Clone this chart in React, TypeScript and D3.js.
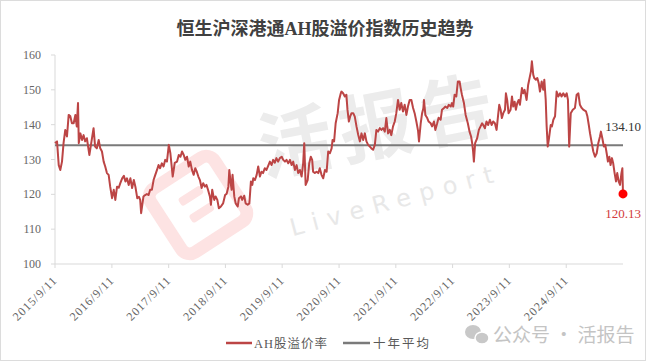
import React from "react";
import * as d3 from "d3";

const chartTitle = "恒生沪深港通AH股溢价指数历史趋势";
const seriesName = "AH股溢价率";
const meanName = "十年平均";
const meanValue = 134.1;
const lastValue = 120.13;

const yTicks = [100, 110, 120, 130, 140, 150, 160];
const xTickDates = [
  "2015-09-11", "2016-09-11", "2017-09-11", "2018-09-11", "2019-09-11",
  "2020-09-11", "2021-09-11", "2022-09-11", "2023-09-11", "2024-09-11",
];
const xTickLabels = [
  "2015/9/11", "2016/9/11", "2017/9/11", "2018/9/11", "2019/9/11",
  "2020/9/11", "2021/9/11", "2022/9/11", "2023/9/11", "2024/9/11",
];
const xDomain = ["2015-09-11", "2025-09-11"];

const premium: [string, number][] = [
  ["2015-09-11", 134.7], ["2015-09-24", 135.2], ["2015-10-05", 128.4], ["2015-10-15", 127.0],
  ["2015-10-26", 129.4], ["2015-11-05", 134.7], ["2015-11-16", 138.5], ["2015-11-27", 136.6],
  ["2015-12-08", 142.8], ["2015-12-18", 142.5], ["2015-12-29", 140.4], ["2016-01-09", 140.4],
  ["2016-01-20", 142.8], ["2016-01-29", 139.5], ["2016-02-06", 146.2], ["2016-02-11", 134.7],
  ["2016-02-21", 137.5], ["2016-03-03", 135.6], ["2016-03-13", 137.0], ["2016-03-23", 135.2],
  ["2016-04-03", 136.1], ["2016-04-19", 131.3], ["2016-05-01", 134.7], ["2016-05-16", 139.0],
  ["2016-05-26", 133.7], ["2016-06-06", 133.2], ["2016-06-18", 135.6], ["2016-06-28", 133.2],
  ["2016-07-09", 132.3], ["2016-07-20", 129.4], ["2016-07-30", 128.0], ["2016-08-10", 126.1],
  ["2016-08-21", 125.6], ["2016-08-31", 122.2], ["2016-09-12", 118.9], ["2016-09-23", 121.3],
  ["2016-10-03", 118.4], ["2016-10-14", 122.2], ["2016-10-25", 121.9], ["2016-11-04", 123.2],
  ["2016-11-16", 124.6], ["2016-11-27", 125.3], ["2016-12-07", 123.7], ["2016-12-17", 124.6],
  ["2016-12-28", 122.7], ["2017-01-08", 124.6], ["2017-01-19", 121.8], ["2017-01-30", 124.1],
  ["2017-02-09", 122.2], ["2017-02-21", 118.9], ["2017-03-04", 119.3], ["2017-03-12", 118.4],
  ["2017-03-18", 114.6], ["2017-04-02", 119.4], ["2017-04-13", 119.8], ["2017-04-24", 120.1],
  ["2017-05-05", 119.8], ["2017-05-15", 121.3], ["2017-05-26", 121.3], ["2017-06-06", 124.1],
  ["2017-06-17", 125.6], ["2017-06-28", 127.0], ["2017-07-08", 128.4], ["2017-07-18", 127.5],
  ["2017-07-29", 128.9], ["2017-08-09", 128.0], ["2017-08-20", 129.9], ["2017-08-31", 129.4],
  ["2017-09-12", 134.2], ["2017-09-22", 131.8], ["2017-10-07", 125.1], ["2017-10-20", 129.0],
  ["2017-11-04", 129.4], ["2017-11-15", 131.3], ["2017-11-26", 130.8], ["2017-12-06", 132.3],
  ["2017-12-17", 131.3], ["2017-12-27", 129.9], ["2018-01-07", 130.8], ["2018-01-18", 128.0],
  ["2018-01-28", 129.4], ["2018-02-08", 127.0], ["2018-02-19", 125.6], ["2018-03-01", 127.5],
  ["2018-03-11", 126.5], ["2018-03-21", 125.1], ["2018-03-31", 124.1], ["2018-04-11", 121.8],
  ["2018-04-21", 123.2], ["2018-05-02", 122.2], ["2018-05-12", 122.7], ["2018-05-22", 121.3],
  ["2018-06-03", 119.4], ["2018-06-10", 117.0], ["2018-06-18", 121.3], ["2018-07-01", 118.4],
  ["2018-07-10", 119.4], ["2018-07-21", 118.4], ["2018-07-31", 116.0], ["2018-08-13", 116.5],
  ["2018-08-27", 117.4], ["2018-09-09", 119.8], ["2018-09-19", 120.2], ["2018-09-30", 122.2],
  ["2018-10-06", 127.0], ["2018-10-15", 123.2], ["2018-10-21", 121.3], ["2018-10-27", 125.6],
  ["2018-11-07", 119.4], ["2018-11-16", 117.4], ["2018-11-29", 116.5], ["2018-12-07", 118.9],
  ["2018-12-20", 119.4], ["2018-12-28", 118.4], ["2019-01-10", 119.6], ["2019-01-19", 117.4],
  ["2019-02-01", 117.0], ["2019-02-12", 117.4], ["2019-02-22", 123.7], ["2019-03-03", 122.7],
  ["2019-03-09", 124.6], ["2019-03-20", 124.1], ["2019-03-31", 125.6], ["2019-04-10", 128.0],
  ["2019-04-21", 125.1], ["2019-05-01", 126.5], ["2019-05-11", 126.1], ["2019-05-22", 127.5],
  ["2019-06-02", 127.0], ["2019-06-13", 128.2], ["2019-06-24", 129.4], ["2019-07-05", 128.4],
  ["2019-07-15", 129.9], ["2019-07-26", 129.1], ["2019-08-05", 130.4], ["2019-08-16", 129.4],
  ["2019-08-27", 130.4], ["2019-09-08", 130.8], ["2019-09-18", 129.9], ["2019-09-29", 129.4],
  ["2019-10-09", 129.9], ["2019-10-20", 128.9], ["2019-10-31", 129.9], ["2019-11-11", 128.4],
  ["2019-11-21", 129.4], ["2019-12-02", 127.0], ["2019-12-13", 128.4], ["2019-12-23", 126.1],
  ["2020-01-03", 127.0], ["2020-01-14", 125.1], ["2020-01-24", 128.9], ["2020-01-31", 134.7],
  ["2020-02-09", 122.7], ["2020-02-22", 124.1], ["2020-03-03", 128.9], ["2020-03-13", 130.8],
  ["2020-03-22", 129.9], ["2020-03-28", 126.5], ["2020-04-08", 126.1], ["2020-04-19", 126.5],
  ["2020-04-30", 126.1], ["2020-05-10", 127.5], ["2020-05-21", 125.6], ["2020-06-01", 124.6],
  ["2020-06-12", 127.0], ["2020-06-23", 126.5], ["2020-07-03", 132.3], ["2020-07-14", 131.8],
  ["2020-07-25", 133.2], ["2020-07-31", 135.6], ["2020-08-10", 135.2], ["2020-08-20", 140.4],
  ["2020-09-02", 143.3], ["2020-09-11", 147.1], ["2020-09-22", 149.0], ["2020-09-26", 149.5],
  ["2020-10-07", 149.0], ["2020-10-18", 148.1], ["2020-10-28", 148.6], ["2020-11-04", 144.3],
  ["2020-11-13", 140.9], ["2020-11-21", 142.3], ["2020-11-30", 143.3], ["2020-12-11", 143.3],
  ["2020-12-21", 142.3], ["2021-01-01", 139.5], ["2021-01-12", 137.1], ["2021-01-23", 135.2],
  ["2021-02-02", 137.5], ["2021-02-13", 135.6], ["2021-02-24", 137.5], ["2021-03-06", 135.2],
  ["2021-03-17", 134.2], ["2021-03-28", 133.7], ["2021-04-07", 133.2], ["2021-04-18", 132.8],
  ["2021-04-29", 134.2], ["2021-05-09", 138.5], ["2021-05-20", 138.0], ["2021-05-31", 139.0],
  ["2021-06-10", 138.5], ["2021-06-21", 139.0], ["2021-07-02", 138.0], ["2021-07-12", 141.9],
  ["2021-07-23", 137.5], ["2021-08-03", 138.5], ["2021-08-13", 137.0], ["2021-08-24", 139.5],
  ["2021-09-04", 140.9], ["2021-09-14", 143.3], ["2021-09-25", 147.1], ["2021-10-06", 144.3],
  ["2021-10-16", 146.2], ["2021-10-27", 143.8], ["2021-11-07", 145.7], ["2021-11-18", 142.8],
  ["2021-11-28", 145.2], ["2021-12-09", 147.1], ["2021-12-20", 147.1], ["2021-12-31", 144.8],
  ["2022-01-10", 143.3], ["2022-01-21", 140.9], ["2022-02-01", 138.2], ["2022-02-07", 135.2],
  ["2022-02-18", 140.4], ["2022-02-27", 143.3], ["2022-03-07", 144.7], ["2022-03-11", 147.1],
  ["2022-03-20", 142.8], ["2022-04-01", 141.9], ["2022-04-10", 140.9], ["2022-04-23", 140.4],
  ["2022-05-02", 139.5], ["2022-05-14", 140.9], ["2022-05-23", 138.5], ["2022-06-04", 140.4],
  ["2022-06-13", 142.0], ["2022-06-26", 141.4], ["2022-07-05", 144.3], ["2022-07-18", 144.8],
  ["2022-07-26", 145.2], ["2022-08-08", 144.8], ["2022-08-17", 145.7], ["2022-08-30", 145.2],
  ["2022-09-07", 146.2], ["2022-09-15", 145.2], ["2022-09-24", 148.6], ["2022-10-05", 148.1],
  ["2022-10-15", 152.4], ["2022-10-26", 152.4], ["2022-11-02", 150.5], ["2022-11-10", 148.6],
  ["2022-11-23", 146.2], ["2022-12-04", 142.8], ["2022-12-18", 140.4], ["2022-12-29", 138.0],
  ["2023-01-08", 136.6], ["2023-01-15", 134.7], ["2023-01-21", 132.3], ["2023-01-26", 129.4],
  ["2023-02-03", 134.7], ["2023-02-16", 136.1], ["2023-02-27", 138.5], ["2023-03-10", 139.5],
  ["2023-03-20", 140.4], ["2023-03-27", 139.9], ["2023-04-07", 139.0], ["2023-04-17", 140.9],
  ["2023-04-28", 139.9], ["2023-05-09", 141.4], ["2023-05-20", 139.9], ["2023-05-30", 140.9],
  ["2023-06-10", 140.4], ["2023-06-21", 138.5], ["2023-07-01", 142.8], ["2023-07-08", 145.7],
  ["2023-07-17", 144.3], ["2023-07-25", 141.9], ["2023-08-03", 143.3], ["2023-08-14", 144.3],
  ["2023-08-20", 149.0], ["2023-08-28", 147.1], ["2023-09-06", 143.3], ["2023-09-19", 144.3],
  ["2023-09-28", 148.1], ["2023-10-06", 145.2], ["2023-10-15", 146.6], ["2023-10-23", 144.3],
  ["2023-11-01", 146.2], ["2023-11-10", 147.1], ["2023-11-18", 145.7], ["2023-12-01", 150.5],
  ["2023-12-09", 149.0], ["2023-12-18", 150.0], ["2023-12-31", 147.1], ["2024-01-10", 151.4],
  ["2024-01-21", 153.8], ["2024-01-28", 155.3], ["2024-02-03", 158.2], ["2024-02-12", 154.3],
  ["2024-02-18", 153.4], ["2024-02-29", 152.9], ["2024-03-09", 153.4], ["2024-03-18", 151.9],
  ["2024-03-26", 149.5], ["2024-04-06", 152.4], ["2024-04-16", 150.0], ["2024-04-23", 152.9],
  ["2024-05-02", 147.1], ["2024-05-08", 139.5], ["2024-05-15", 133.7], ["2024-05-23", 136.1],
  ["2024-06-03", 139.9], ["2024-06-11", 139.5], ["2024-06-20", 141.4], ["2024-07-01", 142.4],
  ["2024-07-11", 149.5], ["2024-07-22", 148.1], ["2024-08-02", 149.0], ["2024-08-12", 148.1],
  ["2024-08-23", 149.0], ["2024-09-03", 148.1], ["2024-09-14", 149.0], ["2024-09-22", 147.1],
  ["2024-09-30", 133.7], ["2024-10-10", 143.3], ["2024-10-23", 144.3], ["2024-11-06", 144.8],
  ["2024-11-17", 148.6], ["2024-11-28", 149.0], ["2024-12-08", 145.7], ["2024-12-19", 144.8],
  ["2024-12-29", 144.3], ["2025-01-16", 143.8], ["2025-01-25", 142.4], ["2025-02-03", 139.9],
  ["2025-02-11", 137.5], ["2025-02-22", 134.7], ["2025-03-04", 132.3], ["2025-03-15", 130.8],
  ["2025-03-26", 131.8], ["2025-04-05", 134.7], ["2025-04-16", 136.6], ["2025-04-22", 138.0],
  ["2025-05-01", 136.1], ["2025-05-11", 133.7], ["2025-05-20", 134.2], ["2025-05-29", 131.8],
  ["2025-06-06", 129.4], ["2025-06-15", 130.8], ["2025-06-23", 128.4], ["2025-07-02", 130.4],
  ["2025-07-10", 128.9], ["2025-07-19", 126.1], ["2025-07-28", 123.7], ["2025-08-05", 126.1],
  ["2025-08-14", 123.7], ["2025-08-23", 122.7], ["2025-09-01", 126.1], ["2025-09-07", 127.5],
  ["2025-09-11", 120.13],
];

const W = 648;
const H = 362;
const M = { left: 55, right: 25, top: 55, bottom: 98 };
const serif = "'Liberation Serif', 'Noto Sans CJK SC', serif";
const cjk = "'Noto Sans CJK SC', sans-serif";
const RED = "#bc4545";
const GRAY = "#7a7a7a";

export default function App() {
  const parse = d3.utcParse("%Y-%m-%d");
  const x = d3
    .scaleUtc()
    .domain(xDomain.map((d) => parse(d) as Date))
    .range([M.left, W - M.right]);
  const y = d3.scaleLinear().domain([100, 160]).range([H - M.bottom, M.top]);

  const pts = premium.map(([d, v]) => ({ date: parse(d) as Date, value: v }));
  const line = d3
    .line<{ date: Date; value: number }>()
    .x((d) => x(d.date))
    .y((d) => y(d.value));
  const last = pts[pts.length - 1];
  const x0 = x.range()[0];
  const x1 = x.range()[1];
  const yBase = y(100);

  return (
    <svg
      width={W}
      height={H}
      style={{ position: "absolute", left: 0, top: 0, background: "#fff" }}
    >
      <rect x={0.5} y={0.5} width={645} height={360} fill="#fff" stroke="#dcdcdc" />
      <text
        x={325}
        y={35}
        textAnchor="middle"
        fontFamily={serif}
        fontWeight="bold"
        fontSize={18}
        fill="#404040"
      >
        {chartTitle}
      </text>

      {/* watermark */}
      <g opacity={1}>
        <g transform="translate(198,205) rotate(-33)">
          <rect x={-38} y={-38} width={76} height={76} rx={10} fill="none" stroke="#fde3e3" strokeWidth={13} />
          <rect x={-14} y={-16} width={26} height={9} rx={3} fill="#fde3e3" />
          <rect x={-14} y={4} width={26} height={9} rx={3} fill="#fde3e3" />
        </g>
        <text
          transform="translate(385,152) rotate(-11)"
          textAnchor="middle"
          fontFamily={cjk}
          fontWeight="bold"
          fontSize={74}
          fill="#ececec"
          letterSpacing={8}
        >
          活报告
        </text>
        <text
          transform="translate(398,208) rotate(-15)"
          textAnchor="middle"
          fontFamily="'DejaVu Sans', sans-serif"
          fontSize={24}
          fill="#e8e8e8"
          letterSpacing={9}
        >
          LiveReport
        </text>
      </g>

      {/* axes */}
      <line x1={x0} x2={x0} y1={y(160)} y2={yBase} stroke="#d9d9d9" />
      <line x1={x0} x2={x1} y1={yBase} y2={yBase} stroke="#d9d9d9" />
      {yTicks.map((t) => (
        <g key={t}>
          <line x1={x0 - 4} x2={x0} y1={y(t)} y2={y(t)} stroke="#d9d9d9" />
          <text
            x={41}
            y={y(t) + 4}
            textAnchor="end"
            fontFamily={serif}
            fontSize={12}
            fill="#666"
          >
            {t}
          </text>
        </g>
      ))}
      {xTickDates.map((d, i) => {
        const xx = x(parse(d) as Date);
        return (
          <g key={d}>
            <line x1={xx} x2={xx} y1={yBase} y2={yBase + 4} stroke="#d9d9d9" />
            <text
              transform={`translate(${xx + 3},${yBase + 17}) rotate(-45)`}
              textAnchor="end"
              fontFamily={serif}
              fontSize={12}
              letterSpacing={1}
              fill="#666"
            >
              {xTickLabels[i]}
            </text>
          </g>
        );
      })}

      {/* mean line */}
      <line x1={x0} x2={x1} y1={y(meanValue)} y2={y(meanValue)} stroke={GRAY} strokeWidth={2} />
      {/* series */}
      <path d={line(pts) || ""} fill="none" stroke={RED} strokeWidth={2} strokeLinejoin="round" />
      <circle cx={x(last.date)} cy={y(last.value)} r={4.5} fill="#f00" />

      <text
        x={623}
        y={y(meanValue) - 14}
        textAnchor="middle"
        fontFamily={serif}
        fontSize={13}
        fill="#333"
      >
        {meanValue.toFixed(2)}
      </text>
      <text
        x={623}
        y={y(lastValue) + 24}
        textAnchor="middle"
        fontFamily={serif}
        fontSize={13}
        fill="#d23a3a"
      >
        {lastValue.toFixed(2)}
      </text>

      {/* legend */}
      <line x1={226} x2={252} y1={343} y2={343} stroke={RED} strokeWidth={2.5} />
      <text x={254} y={347.5} fontFamily={serif} fontSize={12.5} letterSpacing={1} fill="#595959">
        {seriesName}
      </text>
      <line x1={343} x2={370} y1={343} y2={343} stroke={GRAY} strokeWidth={2.5} />
      <text x={373} y={347.5} fontFamily={serif} fontSize={12.5} letterSpacing={2} fill="#595959">
        {meanName}
      </text>

      {/* wechat watermark */}
      <g fill="#c8c8c8">
        <ellipse cx={473} cy={332} rx={8} ry={7} />
        <ellipse cx={482} cy={338} rx={7} ry={6} stroke="#fff" strokeWidth={1.5} />
      </g>
      <text x={493} y={342} fontFamily={cjk} fontSize={19} fill="#c4c4c4">
        公众号 · 活报告
      </text>
    </svg>
  );
}
